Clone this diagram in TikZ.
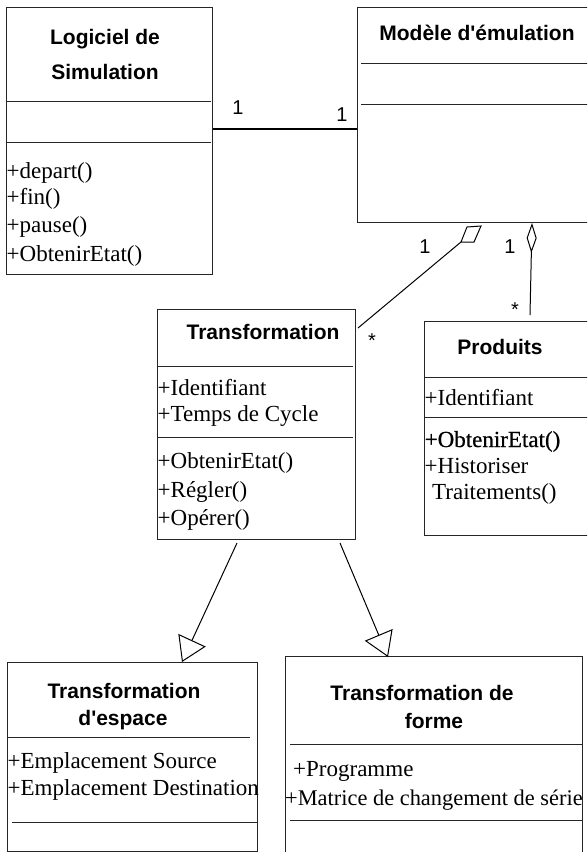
\documentclass[tikz,border=0pt]{standalone}
\usepackage{fontspec}
\setmainfont{Liberation Serif}
\newfontfamily\headfont{Liberation Sans}
\newfontfamily\heavyserif[FakeBold=0.6]{Liberation Serif}
\usetikzlibrary{arrows.meta}

\begin{document}
\begin{tikzpicture}[x=1pt,y=-1pt,
  classbox/.style={draw=black!85, line width=1pt, inner sep=0pt, anchor=north west},
  sepline/.style={draw=black!85, line width=1pt},
  title/.style={font=\headfont\bfseries\fontsize{21}{25}\selectfont, anchor=base, inner sep=0pt},
  member/.style={font=\fontsize{23}{27}\selectfont, anchor=base west, inner sep=0pt},
  mult/.style={font=\headfont\fontsize{20}{24}\selectfont, anchor=base, inner sep=0pt},
  assoc/.style={draw=black, line width=2pt},
  link/.style={draw=black, line width=1pt, line join=miter},
  gen/.style={link, -{Triangle[open, length=24pt, width=30pt]}}
]
\useasboundingbox (0,0) rectangle (587,852);
\clip (0,0) rectangle (587,852);
\fill[white] (0,0) rectangle (587,852);

% ---- class boxes ----
\node[classbox, minimum width=206pt, minimum height=267pt] (logiciel) at (6,7) {};
\node[classbox, minimum width=250pt, minimum height=215pt] (modele) at (357,7) {};
\node[classbox, minimum width=198pt, minimum height=230pt] (transf) at (157,309) {};
\node[classbox, minimum width=200pt, minimum height=214pt] (produits) at (424,321) {};
\node[classbox, minimum width=250pt, minimum height=189pt] (espace) at (7,662) {};
\node[classbox, minimum width=297pt, minimum height=220pt] (forme) at (285,656) {};

% ---- compartment separators ----
\draw[sepline] (7,101) -- (211,101) (7,142) -- (211,142);
\draw[sepline] (361,63) -- (600,63) (361,104) -- (600,104);
\draw[sepline] (158,366) -- (353,366) (158,437) -- (353,437);
\draw[sepline] (424,377) -- (600,377) (424,417) -- (600,417);
\draw[sepline] (7,737) -- (250,737) (12,822) -- (257,822);
\draw[sepline] (290,744) -- (582,744) (290,820) -- (582,820);

% ---- class names ----
\node[title] (tLog1) at (105,44) {Logiciel de};
\node[title] (tLog2) at (105,79) {Simulation};
\node[title] (tMod) at (477,40) {Modèle d'émulation};
\node[title] (tTr) at (263,339) {Transformation};
\node[title] (tPr) at (500,354) {Produits};
\node[title] (tEs1) at (124,698) {Transformation};
\node[title] (tEs2) at (123,725) {d'espace};
\node[title] (tFo1) at (422,700) {Transformation de};
\node[title] (tFo2) at (434,728) {forme};

% ---- members ----
\node[member] (m1) at (6.5,178) {+depart()};
\node[member] (m2) at (6.5,204) {+fin()};
\node[member] (m3) at (6.5,232) {+pause()};
\node[member] (m4) at (6.5,261) {+ObtenirEtat()};

\node[member] (t1) at (157.5,395) {+Identifiant};
\node[member] (t2) at (157.5,421) {+Temps de Cycle};
\node[member] (t3) at (157.5,468) {+ObtenirEtat()};
\node[member] (t4) at (157.5,497) {+Régler()};
\node[member] (t5) at (157.5,525) {+Opérer()};

\node[member] (p1) at (424.5,405) {+Identifiant};
\node[member, font=\heavyserif\fontsize{23}{27}\selectfont] (p2) at (424.5,447) {+ObtenirEtat()};
\node[member] (p3) at (424.5,473) {+Historiser};
\node[member] (p4) at (432,499) {Traitements()};

\node[member] (e1) at (7.5,768) {+Emplacement Source};
\node[member] (e2) at (7.5,795) {+Emplacement Destination};

\node[member] (f1) at (293,776) {+Programme};
\node[member, font=\fontsize{22.4}{27}\selectfont] (f2) at (285,805) {+Matrice de changement de série};

% ---- association ----
\coordinate (assocrow) at (0,129);
\draw[assoc] (logiciel.east |- assocrow) -- (modele.west |- assocrow);
\node[mult] (n1) at (238,114) {1};
\node[mult] (n2) at (342,121) {1};

% ---- aggregations (hollow diamonds at the whole end) ----
\coordinate (endT) at (358,328);
\coordinate (dTa) at (461,242);
\coordinate (dTb) at (474,242);
\coordinate (dTc) at (481,226);
\coordinate (dTd) at (467,227);
\draw[link] (endT) -- (dTa);
\draw[link] (dTa) -- (dTb) -- (dTc) -- (dTd) -- cycle;

\coordinate (aggP) at (532,223);
\coordinate (endP) at (530,315);
\draw[link, {Diamond[open, length=30pt, width=10pt]}-] (aggP) -- (endP);

\node[mult] (n3) at (425,253) {1};
\node[mult] (n4) at (510,253) {1};
\node[mult] (s1) at (372,347) {*};
\node[mult] (s2) at (515,316) {*};

% ---- generalizations ----
\coordinate (genA) at (237,543);
\coordinate (tipA) at (182,662);
\coordinate (genB) at (340,543);
\coordinate (tipB) at (388,657);
\draw[gen] (genA) -- (tipA);
\draw[gen] (genB) -- (tipB);
\end{tikzpicture}
\end{document}
